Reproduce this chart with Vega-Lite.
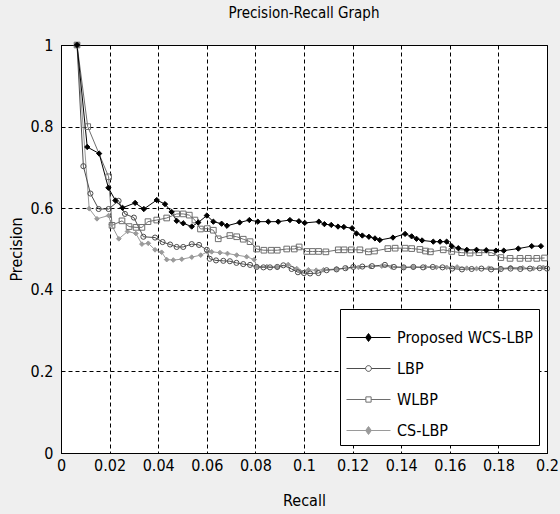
{
  "$schema": "https://vega.github.io/schema/vega-lite/v6.json",
  "autosize": "none",
  "width": 486,
  "height": 408,
  "padding": {"left": 61, "top": 45, "right": 13, "bottom": 61},
  "background": "#efefef",
  "title": {"text": "Precision-Recall Graph", "fontSize": 15, "fontWeight": "normal", "font": "DejaVu Sans Condensed, Liberation Sans, sans-serif", "color": "black", "anchor": "middle", "offset": 16},
  "config": {
    "view": {"fill": "white", "stroke": "black", "strokeWidth": 1},
    "axis": {
      "labelFont": "DejaVu Sans Condensed, Liberation Sans, sans-serif",
      "labelFontSize": 16,
      "labelColor": "black",
      "titleFont": "DejaVu Sans Condensed, Liberation Sans, sans-serif",
      "titleFontSize": 16,
      "titleFontWeight": "normal",
      "titleColor": "black",
      "grid": true,
      "gridColor": "black",
      "gridDash": [4, 3],
      "gridOpacity": 1,
      "gridWidth": 1,
      "domainColor": "black",
      "ticks": false
    }
  },
  "data": {"values": [
    {"s": "CS-LBP", "r": 0.0066, "p": 1.0},
    {"s": "CS-LBP", "r": 0.0116, "p": 0.599},
    {"s": "CS-LBP", "r": 0.0148, "p": 0.574},
    {"s": "CS-LBP", "r": 0.0196, "p": 0.582},
    {"s": "CS-LBP", "r": 0.0207, "p": 0.560},
    {"s": "CS-LBP", "r": 0.0238, "p": 0.525},
    {"s": "CS-LBP", "r": 0.0274, "p": 0.543},
    {"s": "CS-LBP", "r": 0.0308, "p": 0.538},
    {"s": "CS-LBP", "r": 0.0333, "p": 0.512},
    {"s": "CS-LBP", "r": 0.0359, "p": 0.514},
    {"s": "CS-LBP", "r": 0.0387, "p": 0.498},
    {"s": "CS-LBP", "r": 0.0414, "p": 0.492},
    {"s": "CS-LBP", "r": 0.0435, "p": 0.474},
    {"s": "CS-LBP", "r": 0.0462, "p": 0.473},
    {"s": "CS-LBP", "r": 0.0497, "p": 0.475},
    {"s": "CS-LBP", "r": 0.0538, "p": 0.480},
    {"s": "CS-LBP", "r": 0.0575, "p": 0.485},
    {"s": "CS-LBP", "r": 0.0603, "p": 0.493},
    {"s": "CS-LBP", "r": 0.0620, "p": 0.493},
    {"s": "CS-LBP", "r": 0.0654, "p": 0.491},
    {"s": "CS-LBP", "r": 0.0685, "p": 0.489},
    {"s": "CS-LBP", "r": 0.0723, "p": 0.485},
    {"s": "CS-LBP", "r": 0.0764, "p": 0.481},
    {"s": "CS-LBP", "r": 0.0795, "p": 0.474},
    {"s": "CS-LBP", "r": 0.0805, "p": 0.457},
    {"s": "CS-LBP", "r": 0.0847, "p": 0.457},
    {"s": "CS-LBP", "r": 0.0890, "p": 0.455},
    {"s": "CS-LBP", "r": 0.0935, "p": 0.462},
    {"s": "CS-LBP", "r": 0.0970, "p": 0.452},
    {"s": "CS-LBP", "r": 0.0984, "p": 0.445},
    {"s": "CS-LBP", "r": 0.1018, "p": 0.449},
    {"s": "CS-LBP", "r": 0.1050, "p": 0.448},
    {"s": "CS-LBP", "r": 0.1080, "p": 0.449},
    {"s": "CS-LBP", "r": 0.1134, "p": 0.451},
    {"s": "CS-LBP", "r": 0.1176, "p": 0.453},
    {"s": "CS-LBP", "r": 0.1224, "p": 0.455},
    {"s": "CS-LBP", "r": 0.1272, "p": 0.457},
    {"s": "CS-LBP", "r": 0.1320, "p": 0.458},
    {"s": "CS-LBP", "r": 0.1360, "p": 0.456},
    {"s": "CS-LBP", "r": 0.1409, "p": 0.455},
    {"s": "CS-LBP", "r": 0.1450, "p": 0.455},
    {"s": "CS-LBP", "r": 0.1500, "p": 0.456},
    {"s": "CS-LBP", "r": 0.1545, "p": 0.455},
    {"s": "CS-LBP", "r": 0.1587, "p": 0.455},
    {"s": "CS-LBP", "r": 0.1630, "p": 0.456},
    {"s": "CS-LBP", "r": 0.1670, "p": 0.453},
    {"s": "CS-LBP", "r": 0.1710, "p": 0.452},
    {"s": "CS-LBP", "r": 0.1760, "p": 0.453},
    {"s": "CS-LBP", "r": 0.1807, "p": 0.452},
    {"s": "CS-LBP", "r": 0.1850, "p": 0.455},
    {"s": "CS-LBP", "r": 0.1900, "p": 0.454},
    {"s": "CS-LBP", "r": 0.1944, "p": 0.452},
    {"s": "CS-LBP", "r": 0.1985, "p": 0.455},

    {"s": "WLBP", "r": 0.0066, "p": 1.0},
    {"s": "WLBP", "r": 0.0110, "p": 0.800},
    {"s": "WLBP", "r": 0.0196, "p": 0.677},
    {"s": "WLBP", "r": 0.0210, "p": 0.558},
    {"s": "WLBP", "r": 0.0251, "p": 0.569},
    {"s": "WLBP", "r": 0.0280, "p": 0.555},
    {"s": "WLBP", "r": 0.0309, "p": 0.553},
    {"s": "WLBP", "r": 0.0333, "p": 0.553},
    {"s": "WLBP", "r": 0.0358, "p": 0.567},
    {"s": "WLBP", "r": 0.0394, "p": 0.571},
    {"s": "WLBP", "r": 0.0435, "p": 0.576},
    {"s": "WLBP", "r": 0.0476, "p": 0.586},
    {"s": "WLBP", "r": 0.0503, "p": 0.586},
    {"s": "WLBP", "r": 0.0528, "p": 0.583},
    {"s": "WLBP", "r": 0.0551, "p": 0.571},
    {"s": "WLBP", "r": 0.0574, "p": 0.549},
    {"s": "WLBP", "r": 0.0602, "p": 0.550},
    {"s": "WLBP", "r": 0.0627, "p": 0.546},
    {"s": "WLBP", "r": 0.0647, "p": 0.525},
    {"s": "WLBP", "r": 0.0695, "p": 0.533},
    {"s": "WLBP", "r": 0.0723, "p": 0.530},
    {"s": "WLBP", "r": 0.0750, "p": 0.524},
    {"s": "WLBP", "r": 0.0778, "p": 0.518},
    {"s": "WLBP", "r": 0.0805, "p": 0.500},
    {"s": "WLBP", "r": 0.0835, "p": 0.497},
    {"s": "WLBP", "r": 0.0865, "p": 0.497},
    {"s": "WLBP", "r": 0.0890, "p": 0.497},
    {"s": "WLBP", "r": 0.0929, "p": 0.500},
    {"s": "WLBP", "r": 0.0960, "p": 0.500},
    {"s": "WLBP", "r": 0.0980, "p": 0.505},
    {"s": "WLBP", "r": 0.1011, "p": 0.494},
    {"s": "WLBP", "r": 0.1035, "p": 0.494},
    {"s": "WLBP", "r": 0.1060, "p": 0.494},
    {"s": "WLBP", "r": 0.1090, "p": 0.493},
    {"s": "WLBP", "r": 0.1141, "p": 0.498},
    {"s": "WLBP", "r": 0.1165, "p": 0.498},
    {"s": "WLBP", "r": 0.1195, "p": 0.498},
    {"s": "WLBP", "r": 0.1230, "p": 0.498},
    {"s": "WLBP", "r": 0.1265, "p": 0.493},
    {"s": "WLBP", "r": 0.1290, "p": 0.495},
    {"s": "WLBP", "r": 0.1345, "p": 0.501},
    {"s": "WLBP", "r": 0.1375, "p": 0.502},
    {"s": "WLBP", "r": 0.1416, "p": 0.502},
    {"s": "WLBP", "r": 0.1443, "p": 0.501},
    {"s": "WLBP", "r": 0.1477, "p": 0.499},
    {"s": "WLBP", "r": 0.1500, "p": 0.495},
    {"s": "WLBP", "r": 0.1520, "p": 0.493},
    {"s": "WLBP", "r": 0.1573, "p": 0.498},
    {"s": "WLBP", "r": 0.1608, "p": 0.494},
    {"s": "WLBP", "r": 0.1649, "p": 0.491},
    {"s": "WLBP", "r": 0.1683, "p": 0.490},
    {"s": "WLBP", "r": 0.1720, "p": 0.491},
    {"s": "WLBP", "r": 0.1772, "p": 0.491},
    {"s": "WLBP", "r": 0.1810, "p": 0.479},
    {"s": "WLBP", "r": 0.1848, "p": 0.477},
    {"s": "WLBP", "r": 0.1889, "p": 0.477},
    {"s": "WLBP", "r": 0.1923, "p": 0.477},
    {"s": "WLBP", "r": 0.1958, "p": 0.477},
    {"s": "WLBP", "r": 0.1990, "p": 0.478},

    {"s": "LBP", "r": 0.0066, "p": 1.0},
    {"s": "LBP", "r": 0.0092, "p": 0.703},
    {"s": "LBP", "r": 0.0121, "p": 0.636},
    {"s": "LBP", "r": 0.0155, "p": 0.598},
    {"s": "LBP", "r": 0.0196, "p": 0.598},
    {"s": "LBP", "r": 0.0237, "p": 0.618},
    {"s": "LBP", "r": 0.0263, "p": 0.586},
    {"s": "LBP", "r": 0.0300, "p": 0.577},
    {"s": "LBP", "r": 0.0339, "p": 0.530},
    {"s": "LBP", "r": 0.0387, "p": 0.528},
    {"s": "LBP", "r": 0.0418, "p": 0.517},
    {"s": "LBP", "r": 0.0449, "p": 0.511},
    {"s": "LBP", "r": 0.0476, "p": 0.505},
    {"s": "LBP", "r": 0.0503, "p": 0.505},
    {"s": "LBP", "r": 0.0538, "p": 0.512},
    {"s": "LBP", "r": 0.0568, "p": 0.510},
    {"s": "LBP", "r": 0.0600, "p": 0.498},
    {"s": "LBP", "r": 0.0612, "p": 0.476},
    {"s": "LBP", "r": 0.0638, "p": 0.472},
    {"s": "LBP", "r": 0.0668, "p": 0.471},
    {"s": "LBP", "r": 0.0695, "p": 0.470},
    {"s": "LBP", "r": 0.0722, "p": 0.466},
    {"s": "LBP", "r": 0.0750, "p": 0.463},
    {"s": "LBP", "r": 0.0778, "p": 0.461},
    {"s": "LBP", "r": 0.0805, "p": 0.456},
    {"s": "LBP", "r": 0.0833, "p": 0.455},
    {"s": "LBP", "r": 0.0860, "p": 0.455},
    {"s": "LBP", "r": 0.0890, "p": 0.456},
    {"s": "LBP", "r": 0.0915, "p": 0.460},
    {"s": "LBP", "r": 0.0949, "p": 0.451},
    {"s": "LBP", "r": 0.0975, "p": 0.443},
    {"s": "LBP", "r": 0.1000, "p": 0.441},
    {"s": "LBP", "r": 0.1025, "p": 0.440},
    {"s": "LBP", "r": 0.1059, "p": 0.441},
    {"s": "LBP", "r": 0.1093, "p": 0.448},
    {"s": "LBP", "r": 0.1134, "p": 0.450},
    {"s": "LBP", "r": 0.1170, "p": 0.453},
    {"s": "LBP", "r": 0.1203, "p": 0.456},
    {"s": "LBP", "r": 0.1240, "p": 0.457},
    {"s": "LBP", "r": 0.1280, "p": 0.458},
    {"s": "LBP", "r": 0.1333, "p": 0.461},
    {"s": "LBP", "r": 0.1370, "p": 0.456},
    {"s": "LBP", "r": 0.1410, "p": 0.455},
    {"s": "LBP", "r": 0.1450, "p": 0.456},
    {"s": "LBP", "r": 0.1490, "p": 0.455},
    {"s": "LBP", "r": 0.1530, "p": 0.456},
    {"s": "LBP", "r": 0.1570, "p": 0.455},
    {"s": "LBP", "r": 0.1610, "p": 0.452},
    {"s": "LBP", "r": 0.1650, "p": 0.450},
    {"s": "LBP", "r": 0.1690, "p": 0.451},
    {"s": "LBP", "r": 0.1730, "p": 0.452},
    {"s": "LBP", "r": 0.1770, "p": 0.450},
    {"s": "LBP", "r": 0.1810, "p": 0.451},
    {"s": "LBP", "r": 0.1850, "p": 0.452},
    {"s": "LBP", "r": 0.1890, "p": 0.451},
    {"s": "LBP", "r": 0.1930, "p": 0.452},
    {"s": "LBP", "r": 0.1970, "p": 0.453},
    {"s": "LBP", "r": 0.2000, "p": 0.452},

    {"s": "Proposed WCS-LBP", "r": 0.0066, "p": 1.0},
    {"s": "Proposed WCS-LBP", "r": 0.0108, "p": 0.750},
    {"s": "Proposed WCS-LBP", "r": 0.0157, "p": 0.734},
    {"s": "Proposed WCS-LBP", "r": 0.0195, "p": 0.650},
    {"s": "Proposed WCS-LBP", "r": 0.0224, "p": 0.619},
    {"s": "Proposed WCS-LBP", "r": 0.0253, "p": 0.601},
    {"s": "Proposed WCS-LBP", "r": 0.0305, "p": 0.613},
    {"s": "Proposed WCS-LBP", "r": 0.0341, "p": 0.598},
    {"s": "Proposed WCS-LBP", "r": 0.0394, "p": 0.620},
    {"s": "Proposed WCS-LBP", "r": 0.0428, "p": 0.610},
    {"s": "Proposed WCS-LBP", "r": 0.0455, "p": 0.591},
    {"s": "Proposed WCS-LBP", "r": 0.0476, "p": 0.569},
    {"s": "Proposed WCS-LBP", "r": 0.0503, "p": 0.563},
    {"s": "Proposed WCS-LBP", "r": 0.0538, "p": 0.555},
    {"s": "Proposed WCS-LBP", "r": 0.0565, "p": 0.565},
    {"s": "Proposed WCS-LBP", "r": 0.0600, "p": 0.582},
    {"s": "Proposed WCS-LBP", "r": 0.0627, "p": 0.567},
    {"s": "Proposed WCS-LBP", "r": 0.0661, "p": 0.562},
    {"s": "Proposed WCS-LBP", "r": 0.0683, "p": 0.557},
    {"s": "Proposed WCS-LBP", "r": 0.0735, "p": 0.565},
    {"s": "Proposed WCS-LBP", "r": 0.0775, "p": 0.571},
    {"s": "Proposed WCS-LBP", "r": 0.0810, "p": 0.567},
    {"s": "Proposed WCS-LBP", "r": 0.0853, "p": 0.567},
    {"s": "Proposed WCS-LBP", "r": 0.0894, "p": 0.567},
    {"s": "Proposed WCS-LBP", "r": 0.0942, "p": 0.571},
    {"s": "Proposed WCS-LBP", "r": 0.0979, "p": 0.568},
    {"s": "Proposed WCS-LBP", "r": 0.1003, "p": 0.564},
    {"s": "Proposed WCS-LBP", "r": 0.1061, "p": 0.567},
    {"s": "Proposed WCS-LBP", "r": 0.1084, "p": 0.561},
    {"s": "Proposed WCS-LBP", "r": 0.1112, "p": 0.559},
    {"s": "Proposed WCS-LBP", "r": 0.1140, "p": 0.555},
    {"s": "Proposed WCS-LBP", "r": 0.1164, "p": 0.554},
    {"s": "Proposed WCS-LBP", "r": 0.1198, "p": 0.551},
    {"s": "Proposed WCS-LBP", "r": 0.1216, "p": 0.538},
    {"s": "Proposed WCS-LBP", "r": 0.1240, "p": 0.533},
    {"s": "Proposed WCS-LBP", "r": 0.1267, "p": 0.530},
    {"s": "Proposed WCS-LBP", "r": 0.1292, "p": 0.526},
    {"s": "Proposed WCS-LBP", "r": 0.1312, "p": 0.522},
    {"s": "Proposed WCS-LBP", "r": 0.1366, "p": 0.528},
    {"s": "Proposed WCS-LBP", "r": 0.1416, "p": 0.537},
    {"s": "Proposed WCS-LBP", "r": 0.1443, "p": 0.531},
    {"s": "Proposed WCS-LBP", "r": 0.1463, "p": 0.525},
    {"s": "Proposed WCS-LBP", "r": 0.1486, "p": 0.521},
    {"s": "Proposed WCS-LBP", "r": 0.1532, "p": 0.518},
    {"s": "Proposed WCS-LBP", "r": 0.1560, "p": 0.518},
    {"s": "Proposed WCS-LBP", "r": 0.1587, "p": 0.518},
    {"s": "Proposed WCS-LBP", "r": 0.1608, "p": 0.507},
    {"s": "Proposed WCS-LBP", "r": 0.1635, "p": 0.502},
    {"s": "Proposed WCS-LBP", "r": 0.1670, "p": 0.498},
    {"s": "Proposed WCS-LBP", "r": 0.1710, "p": 0.498},
    {"s": "Proposed WCS-LBP", "r": 0.1750, "p": 0.497},
    {"s": "Proposed WCS-LBP", "r": 0.1790, "p": 0.496},
    {"s": "Proposed WCS-LBP", "r": 0.1822, "p": 0.496},
    {"s": "Proposed WCS-LBP", "r": 0.1882, "p": 0.501},
    {"s": "Proposed WCS-LBP", "r": 0.1937, "p": 0.507},
    {"s": "Proposed WCS-LBP", "r": 0.1975, "p": 0.507}
  ]},
  "encoding": {
    "x": {"field": "r", "type": "quantitative", "title": "Recall",
      "scale": {"domain": [0, 0.2], "nice": false, "zero": false},
      "axis": {"values": [0, 0.02, 0.04, 0.06, 0.08, 0.1, 0.12, 0.14, 0.16, 0.18, 0.2], "format": ".2~f", "labelPadding": 4, "titlePadding": 19, "labelFlush": false}},
    "y": {"field": "p", "type": "quantitative", "title": "Precision",
      "scale": {"domain": [0, 1], "nice": false},
      "axis": {"values": [0, 0.2, 0.4, 0.6, 0.8, 1], "format": ".1~f", "labelPadding": 8, "titlePadding": 6, "labelFlush": false}}
  },
  "layer": [
    {
      "mark": {"type": "line", "strokeWidth": 1},
      "encoding": {
        "color": {"field": "s", "type": "nominal",
          "scale": {"domain": ["Proposed WCS-LBP", "LBP", "WLBP", "CS-LBP"], "range": ["#000000", "#4d4d4d", "#6e6e6e", "#9a9a9a"]},
          "legend": {
            "title": null,
            "orient": "bottom-right",
            "offset": 8,
            "fillColor": "white",
            "strokeColor": "black",
            "padding": 6,
            "labelFont": "DejaVu Sans Condensed, Liberation Sans, sans-serif",
            "labelFontSize": 16,
            "labelColor": "black",
            "labelLimit": 300,
            "symbolSize": 1936,
            "symbolStrokeWidth": 1,
            "rowPadding": 0,
            "labelOffset": 6,
            "encode": {
              "symbols": {"update": {
                "shape": {"signal": "datum.value === 'LBP' ? 'M-1,0L-0.13,0M0.13,0L1,0M-0.13,0A0.13,0.13 0 1,0 0.13,0A0.13,0.13 0 1,0 -0.13,0Z' : datum.value === 'WLBP' ? 'M-1,0L-0.12,0M0.12,0L1,0M-0.12,-0.12L0.12,-0.12L0.12,0.12L-0.12,0.12Z' : 'M-1,0L1,0M0,-0.18L0.13,0L0,0.18L-0.13,0Z'"},
                "fill": {"signal": "datum.value === 'Proposed WCS-LBP' ? 'black' : datum.value === 'CS-LBP' ? '#9a9a9a' : 'white'"},
                "opacity": {"value": 1}
              }}
            }
          }
        }
      }
    },
    {
      "transform": [{"filter": "datum.s === 'CS-LBP'"}],
      "mark": {"type": "point", "shape": "diamond", "filled": true, "fill": "#9a9a9a", "stroke": "#9a9a9a", "strokeWidth": 1, "size": 22, "opacity": 1}
    },
    {
      "transform": [{"filter": "datum.s === 'WLBP'"}],
      "mark": {"type": "point", "shape": "square", "filled": false, "fill": "transparent", "stroke": "#6e6e6e", "strokeWidth": 1, "size": 32, "opacity": 1}
    },
    {
      "transform": [{"filter": "datum.s === 'LBP'"}],
      "mark": {"type": "point", "shape": "circle", "filled": false, "fill": "transparent", "stroke": "#4d4d4d", "strokeWidth": 1, "size": 26, "opacity": 1}
    },
    {
      "transform": [{"filter": "datum.s === 'Proposed WCS-LBP'"}],
      "mark": {"type": "point", "shape": "diamond", "filled": true, "fill": "#000000", "stroke": "#000000", "strokeWidth": 1, "size": 28, "opacity": 1}
    }
  ]
}
